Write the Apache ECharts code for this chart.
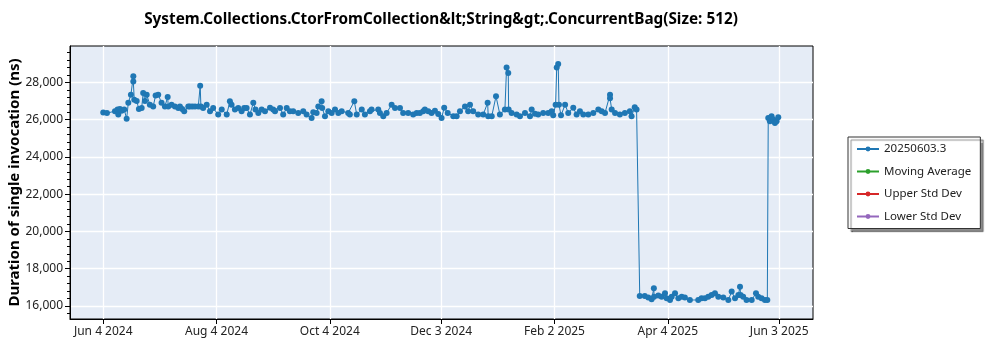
<!DOCTYPE html>
<html><head><meta charset="utf-8">
<script src="https://cdn.jsdelivr.net/npm/echarts@6/dist/echarts.min.js"></script>
<style>html,body{margin:0;padding:0;background:#fff}#c{width:1000px;height:350px}</style>
</head><body><div id="c"></div>
<script>
const titleText = 'System.Collections.CtorFromCollection&lt;String&gt;.ConcurrentBag(Size: 512)';
const yAxisTitle = 'Duration of single invocation (ns)';
const seriesNames = ['20250603.3', 'Moving Average', 'Upper Std Dev', 'Lower Std Dev'];
const seriesColors = ['#1f77b4', '#2ca02c', '#d62728', '#9467bd'];
const startDate = '2024-06-04';
const tickDates = ['2024-06-04', '2024-08-04', '2024-10-04', '2024-12-03', '2025-02-02', '2025-04-04', '2025-06-03'];
const tickLabels = ['Jun 4 2024', 'Aug 4 2024', 'Oct 4 2024', 'Dec 3 2024', 'Feb 2 2025', 'Apr 4 2025', 'Jun 3 2025'];
const yTicks = [16000, 18000, 20000, 22000, 24000, 26000, 28000];

// days since startDate for each measurement
const dayOffsets = [
  0, 2, 6.3, 7.7, 8.1, 9, 9.9, 11.3, 12.6, 13.5, 14.9, 16.2, 16.2, 16.7, 18, 19.2, 20.7, 21.5, 22.5, 23.4,
  25.1, 26.9, 28.2, 29.6, 31.4, 33.2, 34.7, 35, 36.8, 38.6, 40.4, 41.3, 42.5, 43.6, 45.8, 46.7, 48, 49.4, 51.2, 52.2,
  52.6, 53.8, 55.7, 57.5, 59.2, 61.9, 63.8, 66.5, 68.2, 69.1, 70.9, 72.7, 74.5, 75.9, 77.2, 79, 80.8, 82, 83.5, 85.3,
  87.1, 89.8, 91.5, 92.5, 95.2, 96.9, 98.8, 100.5, 102.3, 105, 107.7, 109.5, 112.2, 113.1, 114.9, 115.8, 117.6, 117.9, 119.4, 121.2,
  123, 124.8, 126.6, 128.4, 131.9, 132.8, 135.2, 136.5, 139.2, 140.9, 143.6, 144.5, 148.1, 149, 150.8, 152.6, 155.3, 157.1, 159.8, 161.5,
  164.2, 166.9, 168.8, 170.5, 172.3, 173.2, 175, 176.8, 178.6, 180.4, 182.2, 183.6, 185.5, 188.5, 190.3, 192.1, 194.8, 196.5, 197.5, 199.2,
  201.9, 204.6, 207, 207.3, 209.2, 211.5, 213.6, 216.3, 217.2, 218.1, 218.3, 219.9, 222.6, 224.4, 227.1, 229.8, 230.7, 232.5, 234.2, 236.9,
  239.6, 241.5, 242.3, 243.6, 244.2, 245, 245.4, 246.5, 248.7, 250.4, 253.1, 254.9, 256.7, 258.5, 261.2, 263.9, 266.6, 268.4, 270.2, 272.9,
  272.9, 273.8, 275.6, 278.2, 280.9, 283.6, 284.5, 286.2, 287.2, 288.9, 291.6, 293.5, 295.3, 296.5, 296.6, 298.9, 300.7, 302.5, 303.4, 305.2,
  306.1, 307.9, 309.7, 311.5, 313.2, 315.9, 320.4, 322.2, 324, 325.8, 327.6, 329.4, 331.2, 333.9, 336.6, 338.4, 340.2, 342, 342.9, 343.2,
  344.6, 346.4, 349.2, 351.5, 352.7, 354.5, 356.3, 357.6, 358.1, 359, 359.9, 360.8, 361.7, 362.6, 363.5
];
const durations = [
  26380, 26350, 26450, 26540, 26270, 26570, 26470, 26540, 26040, 26900, 27340, 28320, 28050, 27070, 27000, 26570, 26620, 27430, 27000, 27330,
  26800, 26710, 27290, 27340, 26900, 26710, 27210, 26710, 26800, 26710, 26620, 26710, 26570, 26450, 26710, 26700, 26710, 26710, 26710, 27820,
  26710, 26620, 26800, 26450, 26620, 26270, 26540, 26270, 26980, 26800, 26540, 26620, 26450, 26620, 26620, 26270, 26900, 26540, 26360, 26540,
  26450, 26630, 26540, 26450, 26620, 26270, 26620, 26450, 26450, 26360, 26450, 26270, 26090, 26400, 26360, 26710, 26980, 26620, 26180, 26450,
  26360, 26540, 26360, 26450, 26360, 26270, 26980, 26270, 26540, 26270, 26450, 26540, 26540, 26360, 26180, 26360, 26800, 26620, 26620, 26360,
  26360, 26270, 26360, 26360, 26450, 26540, 26450, 26360, 26480, 26300, 26090, 26630, 26360, 26180, 26180, 26450, 26710, 26450, 26800, 26450,
  26270, 26270, 26900, 26180, 26180, 27250, 26270, 26540, 28800, 28500, 26540, 26360, 26270, 26180, 26360, 26180, 26540, 26320, 26270, 26360,
  26360, 26450, 26230, 26800, 28800, 28980, 26800, 26230, 26800, 26360, 26630, 26270, 26450, 26270, 26270, 26360, 26540, 26450, 26360, 27340,
  27150, 26540, 26360, 26270, 26360, 26450, 26180, 26660, 26540, 16540, 16540, 16450, 16360, 16950, 16500, 16560, 16500, 16680, 16410, 16320,
  16500, 16680, 16410, 16500, 16450, 16320, 16320, 16410, 16410, 16500, 16590, 16680, 16500, 16450, 16320, 16770, 16410, 16590, 17030, 16590,
  16500, 16320, 16320, 16680, 16500, 16410, 16320, 16320, 26090, 25910, 26180, 26000, 25820, 25910, 26120
];

const DAY = 86400000;
const t0 = Date.parse(startDate + 'T00:00:00Z');
const tickDays = tickDates.map(d => Math.round((Date.parse(d + 'T00:00:00Z') - t0) / DAY));
const yMinor = [];
for (let v = 15600; v <= 29600; v += 400) if (v % 2000 !== 0) yMinor.push(v);

const mainData = dayOffsets.map((d, i) => [d, durations[i]]);
const font = 'Noto Sans';

const chart = echarts.init(document.getElementById('c'), null, {renderer: 'canvas'});
chart.setOption({
  animation: false,
  backgroundColor: '#ffffff',
  textStyle: {fontFamily: font},
  title: {
    text: titleText, left: 436, top: 7, textAlign: 'center',
    textStyle: {fontFamily: font, fontSize: 15.3, fontWeight: 'bold', color: '#000'}
  },
  grid: {
    left: 70, right: 187, top: 46, bottom: 31, show: true,
    outerBoundsMode: 'none', containLabel: false,
    backgroundColor: '#e5ecf6', borderColor: '#000', borderWidth: 1
  },
  legend: {
    orient: 'vertical', left: 848, top: 137,
    data: seriesNames,
    itemWidth: 22, itemHeight: 6, itemGap: 10.5,
    padding: [6, 9, 6, 8],
    backgroundColor: '#fff', borderColor: '#333', borderWidth: 1,
    shadowColor: 'rgba(0,0,0,0.45)', shadowOffsetX: 3, shadowOffsetY: 3, shadowBlur: 1,
    textStyle: {fontFamily: font, fontSize: 11.5, color: '#222'}
  },
  xAxis: {
    type: 'value', min: -17.9, max: 382.2,
    axisLine: {show: true, onZero: false, lineStyle: {color: '#000'}},
    axisTick: {show: true, length: 5, customValues: tickDays, lineStyle: {color: '#000'}},
    axisLabel: {
      customValues: tickDays, margin: 7, color: '#222', fontSize: 12, fontFamily: font,
      formatter: v => { const i = tickDays.findIndex(t => Math.abs(t - v) < 0.01); return i >= 0 ? tickLabels[i] : ''; }
    },
    splitLine: {show: true, lineStyle: {color: '#fff', width: 1.3}}
  },
  yAxis: [{
    type: 'value', min: 15300, max: 29950,
    name: yAxisTitle, nameLocation: 'middle', nameGap: 48, nameMoveOverlap: false,
    nameTextStyle: {fontFamily: font, fontSize: 15, fontWeight: 'bold', color: '#000'},
    axisLine: {show: true, onZero: false, lineStyle: {color: '#000'}},
    axisTick: {show: true, length: 5, customValues: yTicks, lineStyle: {color: '#000'}},
    axisLabel: {
      customValues: yTicks, margin: 7, color: '#222', fontSize: 12, fontFamily: font,
      formatter: v => v.toLocaleString('en-US')
    },
    splitLine: {show: true, lineStyle: {color: '#fff', width: 1.3}}
  }, {
    type: 'value', min: 15300, max: 29950, position: 'left',
    axisLine: {show: false, onZero: false},
    axisTick: {show: true, length: 3, customValues: yMinor, lineStyle: {color: '#000'}},
    axisLabel: {show: false},
    splitLine: {show: false}
  }],
  series: [
    {
      name: seriesNames[0], type: 'line', data: mainData,
      symbol: 'circle', symbolSize: 6, showSymbol: true,
      color: seriesColors[0],
      lineStyle: {width: 1, color: seriesColors[0]},
      itemStyle: {color: seriesColors[0]}, z: 5
    },
    {name: seriesNames[1], type: 'line', data: [], symbol: 'circle', symbolSize: 6, color: seriesColors[1], lineStyle: {width: 1}},
    {name: seriesNames[2], type: 'line', data: [], symbol: 'circle', symbolSize: 6, color: seriesColors[2], lineStyle: {width: 1}},
    {name: seriesNames[3], type: 'line', data: [], symbol: 'circle', symbolSize: 6, color: seriesColors[3], lineStyle: {width: 1}}
  ]
});
</script>
</body></html>
